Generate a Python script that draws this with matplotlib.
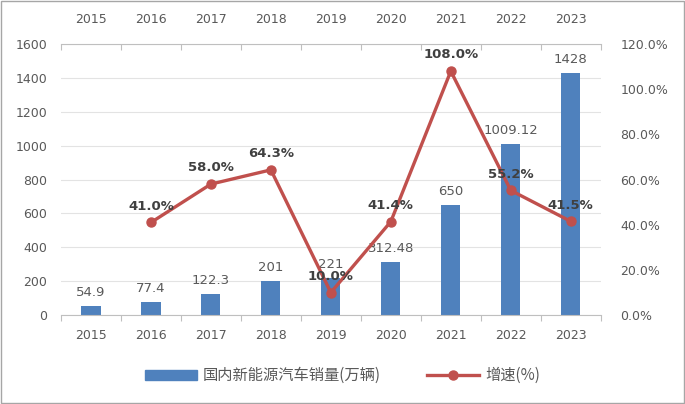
import matplotlib.pyplot as plt
import matplotlib.patches as mpatches
from matplotlib.lines import Line2D
import numpy as np

plt.rcParams['font.family'] = ['DejaVu Sans', 'Noto Sans CJK SC']

years = ['2015', '2016', '2017', '2018', '2019', '2020', '2021', '2022', '2023']
sales = [54.9, 77.4, 122.3, 201, 221, 312.48, 650, 1009.12, 1428]
sales_labels = ['54.9', '77.4', '122.3', '201', '221', '312.48', '650', '1009.12', '1428']
growth_years = ['2016', '2017', '2018', '2019', '2020', '2021', '2022', '2023']
growth = [41.0, 58.0, 64.3, 10.0, 41.4, 108.0, 55.2, 41.5]

blue = '#4f81bd'
red = '#c0504d'
grey = '#595959'

fig = plt.figure(figsize=(6.85, 4.04), dpi=100)
ax = fig.add_axes([0.089, 0.220, 0.788, 0.671])
x = np.arange(len(years))

ax.bar(x, sales, width=0.32, color=blue, zorder=2)
for xi, v, lab in zip(x, sales, sales_labels):
    ax.annotate(lab, (xi, v), xytext=(0, 5), textcoords='offset points',
                ha='center', va='bottom', fontsize=9.5, color=grey)

ax.set_xlim(-0.5, len(years) - 0.5)
ax.set_ylim(0, 1600)
ax.set_yticks(range(0, 1601, 200))
ax.grid(axis='y', color='#e3e3e3', linewidth=0.8, zorder=0)
ax.set_xticks(np.arange(-0.5, len(years), 1))
ax.set_xticklabels([])
ax.set_xticks(x, minor=True)
ax.set_xticklabels(years, minor=True)
ax.tick_params(axis='x', which='major', length=4, color='#bfbfbf', direction='out')
ax.tick_params(axis='x', which='minor', length=0, pad=10, labelsize=9, labelcolor=grey)
ax.tick_params(axis='y', length=0, labelsize=9, labelcolor=grey, pad=10)
for s in ['left', 'right']:
    ax.spines[s].set_visible(False)
for s in ['top', 'bottom']:
    ax.spines[s].set_color('#bfbfbf')

# top category axis
top = ax.secondary_xaxis('top')
top.set_xticks(np.arange(-0.5, len(years), 1))
top.set_xticklabels([])
top.set_xticks(x, minor=True)
top.set_xticklabels(years, minor=True)
top.tick_params(axis='x', which='major', length=4, color='#bfbfbf', direction='in')
top.tick_params(axis='x', which='minor', length=0, pad=13, labelsize=9, labelcolor=grey)
top.spines['top'].set_visible(False)

ax2 = ax.twinx()
gx = [years.index(y) for y in growth_years]
ax2.plot(gx, growth, color=red, linewidth=2.4, marker='o', markersize=6.5, zorder=3)
for xi, v in zip(gx, growth):
    ax2.annotate('{0:.1f}%'.format(v), (xi, v), xytext=(0, 7), textcoords='offset points',
                 ha='center', va='bottom', fontsize=9.5, fontweight='bold', color='#404040')
ax2.set_ylim(0, 120)
ax2.set_yticks(range(0, 121, 20))
ax2.set_yticklabels(['{0:.1f}%'.format(v) for v in range(0, 121, 20)])
ax2.tick_params(axis='y', length=0, labelsize=9, labelcolor=grey, pad=14)
for s in ax2.spines.values():
    s.set_visible(False)

handles = [mpatches.Patch(color=blue),
           Line2D([], [], color=red, linewidth=2.4, marker='o', markersize=6.5)]
fig.legend(handles, ['国内新能源汽车销量(万辆)', '增速(%)'], loc='center',
           bbox_to_anchor=(0.5, 0.07), ncol=2, frameon=False,
           labelcolor=grey, handlelength=3.4, columnspacing=3.0, handletextpad=0.4,
           prop={'family': ['Noto Sans CJK SC', 'DejaVu Sans'], 'size': 11})

fig.patches.append(mpatches.Rectangle((0.002, 0.003), 0.996, 0.994, transform=fig.transFigure,
                                      fill=False, edgecolor='#a6a6a6', linewidth=1))

fig.savefig('out.png', dpi=100)
